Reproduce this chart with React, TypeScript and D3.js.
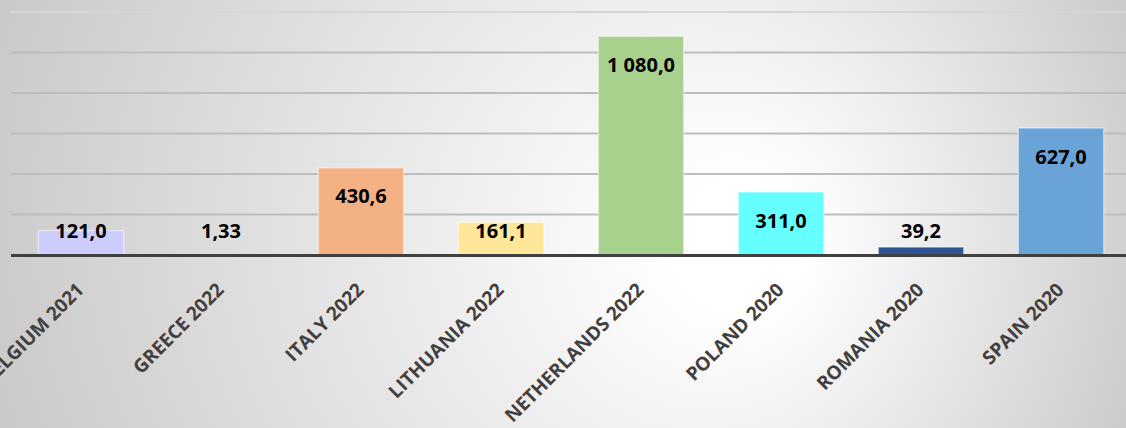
import React, { useEffect, useRef } from 'react';
import * as d3 from 'd3';

const categories = ['BELGIUM 2021', 'GREECE 2022', 'ITALY 2022', 'LITHUANIA 2022', 'NETHERLANDS 2022', 'POLAND 2020', 'ROMANIA 2020', 'SPAIN 2020'];
const values = [121.0, 1.33, 430.6, 161.1, 1080.0, 311.0, 39.2, 627.0];
const valueLabels = ['121,0', '1,33', '430,6', '161,1', '1 080,0', '311,0', '39,2', '627,0'];
const barColors = ['#ccccff', '#c9c9c9', '#f4b183', '#ffe699', '#a9d18e', '#66ffff', '#2f5597', '#6aa3d7'];
const gridTicks = [0, 200, 400, 600, 800, 1000, 1200];

const BarChart = ({ width, height }: { width: number; height: number }) => {
    const svgRef = useRef(null);

    useEffect(() => {
        const svg = d3.select(svgRef.current);
        svg.selectAll('*').remove();

        const left = 11;
        const bandW = 140;
        const baseY = 255;

        const x = d3.scaleBand()
            .domain(categories)
            .range([left, left + bandW * categories.length])
            .paddingInner(0.39)
            .paddingOuter(0.195);

        const y = d3.scaleLinear()
            .domain([0, 1200])
            .range([baseY, 12]);

        // background, brightest a bit right of centre
        const defs = svg.append('defs');
        const grad = defs.append('radialGradient')
            .attr('id', 'bg')
            .attr('gradientUnits', 'userSpaceOnUse')
            .attr('cx', 560).attr('cy', 214).attr('r', 640)
            .attr('fx', 760).attr('fy', 250);
        grad.append('stop').attr('offset', '0.1').attr('stop-color', '#ffffff');
        grad.append('stop').attr('offset', '1').attr('stop-color', '#c6c6c6');

        svg.append('rect')
            .attr('width', width)
            .attr('height', height)
            .attr('fill', 'url(#bg)');

        // gridlines
        svg.append('g')
            .selectAll('line')
            .data(gridTicks.filter(t => t > 0))
            .join('line')
            .attr('x1', left)
            .attr('x2', width)
            .attr('y1', d => y(d))
            .attr('y2', d => y(d))
            .attr('stroke', (d) => d === 1200 ? '#d6d6d6' : '#bdbdbd')
            .attr('stroke-width', 2);

        // bars
        svg.append('g')
            .selectAll('rect')
            .data(values)
            .join('rect')
            .attr('x', (d, i) => x(categories[i])!)
            .attr('y', d => y(d))
            .attr('width', x.bandwidth())
            .attr('height', d => baseY - y(d))
            .attr('fill', (d, i) => barColors[i])
            .attr('stroke', 'rgba(255,255,255,0.45)')
            .attr('stroke-width', 1.5);

        // baseline
        svg.append('line')
            .attr('x1', left)
            .attr('x2', width)
            .attr('y1', baseY + 0.5)
            .attr('y2', baseY + 0.5)
            .attr('stroke', '#404040')
            .attr('stroke-width', 3);

        // value labels
        svg.append('g')
            .selectAll('text')
            .data(values)
            .join('text')
            .attr('x', (d, i) => x(categories[i])! + x.bandwidth() / 2)
            .attr('y', d => Math.min(y(d) + 28, 230) + 7.5)
            .attr('text-anchor', 'middle')
            .attr('font-family', '"Open Sans", sans-serif')
            .attr('font-weight', 700)
            .attr('font-size', 20)
            .attr('fill', '#000')
            .text((d, i) => valueLabels[i]);

        // category labels
        svg.append('g')
            .selectAll('text')
            .data(categories)
            .join('text')
            .attr('transform', d => `translate(${x(d)! + x.bandwidth() / 2 + 4},${baseY + 36}) rotate(-45)`)
            .attr('text-anchor', 'end')
            .attr('font-family', '"Open Sans", sans-serif')
            .attr('font-weight', 700)
            .attr('font-size', 19)
            .attr('fill', '#404040')
            .text(d => d);
    }, [width, height]);

    return (
        <svg
            ref={svgRef}
            width={width}
            height={height}
            style={{ position: 'absolute', left: 0, top: 0, display: 'block' }}
        />
    );
};

export default function App() {
    return <BarChart width={1126} height={428} />;
}
